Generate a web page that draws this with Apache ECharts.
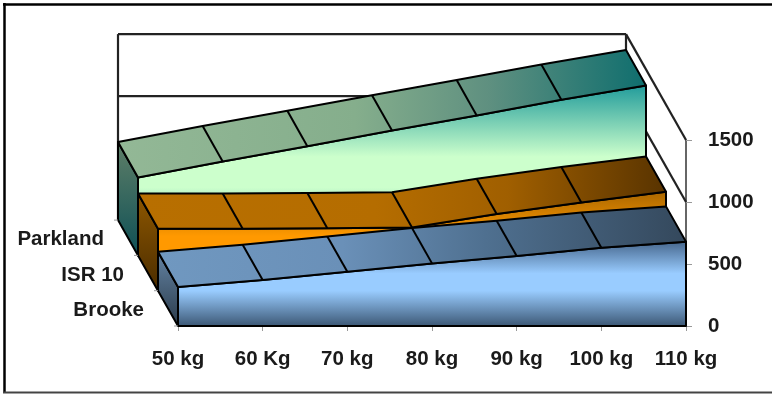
<!DOCTYPE html>
<html>
<head>
<meta charset="utf-8">
<style>
  html, body { margin: 0; padding: 0; background: #fff; }
  #chart { width: 772px; height: 394px; }
</style>
<script src="https://cdn.jsdelivr.net/npm/echarts@6/dist/echarts.min.js"></script>
</head>
<body>
<div id="chart"></div>
<script>
const categories = ['50 kg', '60 Kg', '70 kg', '80 kg', '90 kg', '100 kg', '110 kg']
const yTicks = [0, 500, 1000, 1500]
const depthNames = ['Brooke', 'ISR 10', 'Parkland']

const brooke = [315, 371, 438, 505, 565, 631, 680]
const isr10 = [500, 500, 503, 510, 618, 712, 798]
const parkland = [629, 758, 881, 1007, 1129, 1255, 1371]

// one depth step of the oblique projection, in pixels
const stepX = -20
const stepY = -35.3
const fontFamily = '"Liberation Sans", Arial, sans-serif'
const fontSize = 20.5
const LG = echarts.graphic.LinearGradient

const stops = (cols) => cols.map(c => ({ offset: c[0], color: c[1] }))

const looks = {
  brooke: {
    face: stops([[0, '#44648a'], [0.38, '#99ccff'], [0.58, '#99ccff'], [1, '#3a5572']]),
    top: stops([[0, '#7098c0'], [0.35, '#6a90b8'], [0.62, '#4f7090'], [1, '#34485c']]),
    side: stops([[0, '#6585a5'], [1, '#2a3a4a']])
  },
  isr10: {
    face: stops([[0, '#a86600'], [0.45, '#ff9900'], [0.6, '#ff9900'], [1, '#a86600']]),
    top: stops([[0, '#b86f00'], [0.45, '#b56d00'], [0.7, '#a05f00'], [1, '#583300']]),
    side: stops([[0, '#8f5800'], [1, '#4a2c00']])
  },
  parkland: {
    face: stops([[0, '#1f9a9a'], [0.42, '#ccffcc'], [0.6, '#ccffcc'], [1, '#1f9a9a']]),
    top: stops([[0, '#93b896'], [0.45, '#85ae8c'], [0.7, '#5f9080'], [1, '#0f6e6e']]),
    side: stops([[0, '#5f7f68'], [1, '#0d4f55']])
  }
}

const edge = { stroke: '#000', lineWidth: 2, lineJoin: 'round' }

const at = (api, i, v, depth) => {
  const p = api.coord([i, v])
  return [p[0] + depth * stepX, p[1] + depth * stepY]
}

const poly = (points, fill) => ({
  type: 'polygon',
  shape: { points },
  style: { fill, ...edge }
})

const seg = (a, b, style) => ({
  type: 'line',
  shape: { x1: a[0], y1: a[1], x2: b[0], y2: b[1] },
  style: style || edge
})

// area series: front face, left side, then the top surface with its dividers
const renderArea = (values, depth, look) => (params, api) => {
  const last = values.length - 1
  const front = values.map((v, i) => at(api, i, v, depth))
  const back = values.map((v, i) => at(api, i, v, depth + 1))
  const children = [
    poly([...front, at(api, last, 0, depth), at(api, 0, 0, depth)], new LG(0, 0, 0, 1, look.face)),
    poly([back[0], front[0], at(api, 0, 0, depth), at(api, 0, 0, depth + 1)], new LG(0, 0, 0, 1, look.side)),
    poly([...front, ...back.slice().reverse()], new LG(0, 0, 1, 0, look.top))
  ]
  for (let i = 1; i < last; i++) children.push(seg(front[i], back[i]))
  return { type: 'group', children }
}

const renderWalls = (params, api) => {
  const last = categories.length - 1
  const wall = { stroke: '#222', lineWidth: 2.2 }
  const full = depthNames.length
  const top = yTicks[yTicks.length - 1]
  const children = [
    seg(at(api, 0, 0, full), at(api, 0, top, full), wall),
    seg(at(api, 0, top, full), at(api, last, top, full), wall),
    seg(at(api, last, 0, full), at(api, last, top, full), wall),
    seg(at(api, last, top, full), at(api, last, top, 0), wall)
  ]
  yTicks.slice(1, -1).forEach(v => {
    children.push(seg(at(api, 0, v, full), at(api, last, v, full), wall))
    children.push(seg(at(api, last, v, full), at(api, last, v, 0), wall))
  })
  return { type: 'group', children }
}

// depth axis ticks and its labels
const renderDepthAxis = (params, api) => {
  const children = []
  const tick = { stroke: '#999', lineWidth: 1 }
  for (let d = 0; d <= depthNames.length; d++) {
    const p = at(api, 0, 0, d)
    children.push(seg(p, [p[0] - 4, p[1]], tick))
  }
  depthNames.forEach((name, d) => {
    const p = at(api, 0, 0, d + 0.5)
    children.push({
      type: 'text',
      x: p[0] - 24,
      y: p[1] + 2,
      style: { text: name, fontFamily, fontSize, fontWeight: 'bold', fill: '#1a1a1a', align: 'right', verticalAlign: 'middle' }
    })
  })
  return { type: 'group', children }
}

const custom = (name, renderItem, z) => ({
  name,
  type: 'custom',
  coordinateSystem: 'cartesian2d',
  renderItem,
  data: [[0, 0]],
  z,
  silent: true,
  clip: false,
  animation: false
})

const chart = echarts.init(document.getElementById('chart'))
chart.setOption({
  animation: false,
  backgroundColor: '#fff',
  grid: { left: 178, right: 86, top: 140, bottom: 68 },
  xAxis: {
    type: 'category',
    data: categories,
    boundaryGap: false,
    axisLine: { show: false },
    axisTick: { show: true, length: 5, lineStyle: { color: '#999' } },
    axisLabel: { margin: 23, interval: 0, hideOverlap: false, color: '#1a1a1a', fontFamily, fontWeight: 'bold', fontSize },
    splitLine: { show: false }
  },
  yAxis: {
    type: 'value',
    position: 'right',
    min: 0,
    max: 1500,
    interval: 500,
    axisLine: { show: true, lineStyle: { color: '#333', width: 1.5 } },
    axisTick: { show: true, length: 6, lineStyle: { color: '#999' } },
    axisLabel: { margin: 22, padding: [3, 0, 0, 0], color: '#1a1a1a', fontFamily, fontWeight: 'bold', fontSize, formatter: (v) => String(v) },
    splitLine: { show: false }
  },
  series: [
    custom('walls', renderWalls, 1),
    custom(depthNames[2], renderArea(parkland, 2, looks.parkland), 2),
    custom(depthNames[1], renderArea(isr10, 1, looks.isr10), 3),
    custom(depthNames[0], renderArea(brooke, 0, looks.brooke), 4),
    custom('depth axis', renderDepthAxis, 5)
  ],
  graphic: [
    { type: 'line', shape: { x1: 4.5, y1: 3, x2: 4.5, y2: 393 }, style: { stroke: '#000', lineWidth: 2.5 } },
    { type: 'line', shape: { x1: 3, y1: 4.5, x2: 772, y2: 4.5 }, style: { stroke: '#000', lineWidth: 2.5 } },
    { type: 'line', shape: { x1: 3, y1: 392.5, x2: 772, y2: 392.5 }, style: { stroke: '#444', lineWidth: 2 } }
  ]
})

window.addEventListener('resize', () => chart.resize())
</script>
</body>
</html>
